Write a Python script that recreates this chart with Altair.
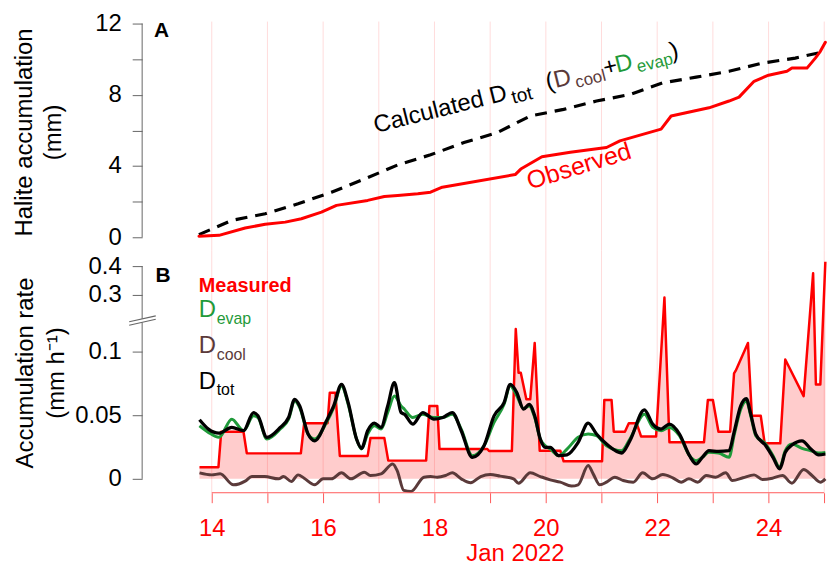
import math
import altair as alt
import pandas as pd

# ---------------- data ----------------
# Panel A: cumulative halite accumulation (mm) vs day of Jan 2022
obs_day = [13.77, 14.13, 14.60, 14.96, 15.32, 15.61, 15.97, 16.24, 16.80, 17.10, 17.34, 17.70, 17.93,
           18.14, 19.45, 19.55, 19.93, 20.44, 21.09, 21.33, 22.07, 22.25, 22.93, 23.29, 23.47, 23.74,
           24.00, 24.33, 24.42, 24.69, 24.84, 24.93, 25.02]
obs_mm = [0.06, 0.11, 0.52, 0.73, 0.85, 1.04, 1.41, 1.79, 2.07, 2.29, 2.34, 2.44, 2.53,
          2.81, 3.52, 3.83, 4.52, 4.77, 5.04, 5.41, 6.07, 6.81, 7.27, 7.65, 7.87, 8.76,
          9.10, 9.32, 9.50, 9.50, 10.06, 10.44, 10.95]
calc_day = [13.77, 14.36, 14.96, 15.55, 16.15, 16.74, 17.34, 17.93, 18.53, 19.13, 19.72, 20.32,
            20.91, 21.51, 22.10, 22.70, 23.29, 23.89, 24.48, 25.02]
calc_mm = [0.15, 0.95, 1.32, 1.88, 2.53, 3.27, 4.06, 4.63, 5.32, 5.88, 6.81, 7.18,
           7.65, 8.02, 8.67, 8.99, 9.32, 9.78, 10.06, 10.44]

# Panel B: accumulation rate (mm/h)
meas_day = [13.78, 14.12, 14.17, 14.57, 14.63, 15.60, 15.66, 16.08, 16.12, 16.22, 16.30, 16.80,
            16.85, 17.10, 17.17, 17.85, 17.91, 18.05, 18.09, 18.95, 18.98, 19.39, 19.46, 19.51,
            19.55, 19.65, 19.72, 19.80, 19.89, 20.26, 20.32, 21.01, 21.05, 21.18, 21.22, 21.42,
            21.49, 21.63, 21.71, 21.98, 22.13, 22.22, 22.84, 22.91, 23.00, 23.10, 23.31, 23.38,
            23.41, 23.63, 23.70, 23.86, 23.93, 24.21, 24.30, 24.63, 24.80, 24.85, 24.93, 25.02]
meas_rate = [0.0091, 0.0091, 0.037, 0.037, 0.020, 0.020, 0.0437, 0.0437, 0.0677, 0.0677, 0.018, 0.018,
             0.032, 0.032, 0.0143, 0.0143, 0.0573, 0.0573, 0.0234, 0.0234, 0.0219, 0.0219, 0.1177, 0.0833,
             0.0833, 0.0625, 0.0625, 0.1068, 0.0221, 0.0221, 0.0138, 0.0138, 0.062, 0.062, 0.037, 0.037,
             0.0437, 0.0437, 0.0333, 0.0333, 0.291, 0.0287, 0.0287, 0.062, 0.062, 0.037, 0.037, 0.0828,
             0.085, 0.1068, 0.0495, 0.0495, 0.0279, 0.0279, 0.0938, 0.065, 0.375, 0.0742, 0.0742, 0.415]

tot_day = [13.78, 13.94, 14.13, 14.36, 14.57, 14.75, 14.83, 14.99, 15.23, 15.38, 15.49, 15.58, 15.73,
           15.85, 16.06, 16.19, 16.33, 16.45, 16.60, 16.69, 16.80, 16.92, 17.04, 17.16, 17.28, 17.40,
           17.46, 17.61, 17.79, 17.99, 18.15, 18.32, 18.48, 18.68, 18.89, 19.07, 19.25, 19.36, 19.48,
           19.60, 19.70, 19.80, 19.90, 19.99, 20.08, 20.23, 20.38, 20.58, 20.76, 20.91, 21.09, 21.36,
           21.51, 21.77, 21.92, 22.07, 22.22, 22.40, 22.58, 22.70, 22.81, 22.93, 23.10, 23.29, 23.38,
           23.50, 23.60, 23.68, 23.77, 23.95, 24.08, 24.20, 24.30, 24.42, 24.60, 24.76, 24.90, 25.02]
tot_rate = [0.0464, 0.0391, 0.0359, 0.0404, 0.0378, 0.0521, 0.0495, 0.0326, 0.0404, 0.0482, 0.0625, 0.0573, 0.0352,
            0.0299, 0.0456, 0.0573, 0.0742, 0.0599, 0.0313, 0.0240, 0.0378, 0.0438, 0.0404, 0.0573, 0.0755, 0.0521,
            0.0508, 0.0430, 0.0521, 0.0469, 0.0482, 0.0521, 0.0378, 0.0169, 0.0260, 0.0495, 0.0599, 0.0742, 0.0677,
            0.0547, 0.0586, 0.0495, 0.0313, 0.0247, 0.0247, 0.0182, 0.0188, 0.0286, 0.0438, 0.0352, 0.0273, 0.0203,
            0.0299, 0.0542, 0.0430, 0.0391, 0.0430, 0.0352, 0.0182, 0.0117, 0.0169, 0.0221, 0.0216, 0.0221, 0.0365,
            0.0573, 0.0630, 0.0508, 0.0352, 0.0260, 0.0169, 0.0078, 0.0208, 0.0266, 0.0299, 0.0234, 0.0188, 0.0195]
evap_rate = [0.0417, 0.0365, 0.0326, 0.0469, 0.0378, 0.0495, 0.0482, 0.0313, 0.0391, 0.0469, 0.0612, 0.0560, 0.0352,
             0.0313, 0.0443, 0.0560, 0.0729, 0.0586, 0.0313, 0.0234, 0.0352, 0.0417, 0.0391, 0.0521, 0.0651, 0.0573,
             0.0547, 0.0482, 0.0508, 0.0482, 0.0482, 0.0508, 0.0391, 0.0182, 0.0260, 0.0443, 0.0586, 0.0729, 0.0651,
             0.0552, 0.0573, 0.0482, 0.0313, 0.0260, 0.0234, 0.0182, 0.0234, 0.0326, 0.0352, 0.0339, 0.0260, 0.0221,
             0.0313, 0.0508, 0.0404, 0.0378, 0.0404, 0.0339, 0.0182, 0.0143, 0.0169, 0.0208, 0.0203, 0.0169, 0.0339,
             0.0547, 0.0612, 0.0495, 0.0339, 0.0273, 0.0182, 0.0091, 0.0221, 0.0273, 0.0240, 0.0221, 0.0203, 0.0208]

cool_day = [13.78, 14.00, 14.15, 14.39, 14.60, 14.72, 14.95, 15.20, 15.29, 15.43, 15.55, 15.66, 15.85, 16.00,
            16.15, 16.33, 16.50, 16.74, 16.85, 17.04, 17.25, 17.33, 17.45, 17.58, 17.81, 17.93, 18.05, 18.20,
            18.32, 18.48, 18.65, 18.83, 19.00, 19.18, 19.42, 19.51, 19.72, 19.90, 20.08, 20.26, 20.46, 20.58,
            20.76, 20.85, 20.97, 21.09, 21.24, 21.39, 21.57, 21.74, 21.92, 22.10, 22.28, 22.43, 22.57, 22.73,
            22.88, 23.05, 23.23, 23.35, 23.54, 23.74, 23.89, 24.07, 24.25, 24.42, 24.63, 24.78, 24.93, 25.02]
cool_rate = [0.0047, 0.0031, 0.0039, -0.0047, -0.0018, 0.0018, 0.0018, 0.0, 0.0018, -0.0021, 0.0031, 0.0005, -0.0047, 0.0,
             0.0, 0.0047, 0.0, 0.0052, 0.0026, 0.0039, 0.0117, 0.0065, -0.0091, -0.0099, 0.0013, 0.0018, 0.0013, 0.0026,
             0.0047, 0.0, -0.0031, 0.0018, 0.0034, 0.0021, 0.0, -0.0034, 0.0047, 0.0018, -0.0008, -0.0026, -0.0057, -0.0047,
             0.0104, 0.0039, -0.0047, -0.0026, 0.0013, -0.0013, -0.0026, 0.0047, 0.0, 0.0034, 0.0008, -0.0026, 0.0, -0.0026,
             0.0026, 0.0013, 0.0047, -0.0013, 0.0008, 0.0031, -0.0005, 0.0005, 0.0026, -0.0034, 0.0073, 0.0026, -0.0026, 0.0]

grid_days = list(range(14, 26))
x_ticks = list(range(14, 26))
a_ticks = [0, 2, 4, 6, 8, 10, 12]
b_ticks = [0, 0.05, 0.1, 0.3, 0.4]

# ---------------- styling / layout ----------------
FONT = "Liberation Sans"
RED = "#ff0000"
GREEN = "#1f9a3a"
BROWN = "#5b3a3a"
BLACK = "#000000"
AXC = "#666666"
XAC = "#ff5a5a"
GRID = "#ffdcdc"
W, HA, HB = 689, 250, 244
XDOM = [12.75, 25.05]
xscale = alt.Scale(domain=XDOM, nice=False, zero=False)

df_grid = pd.DataFrame({"day": grid_days})
df_obs = pd.DataFrame({"day": obs_day, "mm": obs_mm})
df_calc = pd.DataFrame({"day": calc_day, "mm": calc_mm})
df_meas = pd.DataFrame({"day": meas_day, "rate": meas_rate, "zero": [0.0] * len(meas_day)})
df_tot = pd.DataFrame({"day": tot_day, "rate": tot_rate})
df_evap = pd.DataFrame({"day": tot_day, "rate": evap_rate})
df_cool = pd.DataFrame({"day": cool_day, "rate": cool_rate})

# ---------------- panel A ----------------
yA_scale = alt.Scale(domain=[0, 12], range=[237, 22], nice=False, zero=False)
yA_axis = alt.Axis(values=a_ticks, format="d",
                   labelExpr="datum.value % 4 === 0 ? datum.label : ''",
                   domain=False, grid=False, tickSize=10, tickColor=AXC, tickWidth=1,
                   labelFont=FONT, labelFontSize=24, labelColor=BLACK, labelPadding=11,
                   labelOverlap=False, labelFlush=False,
                   title=["Halite accumulation", "(mm)"], titleFont=FONT, titleFontSize=24,
                   titleFontWeight="normal", titleColor=BLACK, titleAngle=270, titleAlign="center",
                   titleBaseline="middle", titleLineHeight=29, titleX=-118, titleY=131)
xA = alt.X("day:Q", scale=xscale, axis=None)

gridA = alt.Chart(df_grid).mark_rule(color=GRID, strokeWidth=1).encode(
    x=xA, y=alt.value(20), y2=alt.value(HA))
calcA = alt.Chart(df_calc).mark_line(color=BLACK, strokeWidth=3.2, strokeDash=[12, 8]).encode(
    x=xA, y=alt.Y("mm:Q", scale=yA_scale, axis=yA_axis))
obsA = alt.Chart(df_obs).mark_line(color=RED, strokeWidth=3, strokeJoin="round", strokeCap="round").encode(
    x=xA, y=alt.Y("mm:Q", scale=yA_scale, axis=yA_axis))
axisA = alt.Chart(pd.DataFrame({"lo": [0], "hi": [12]})).mark_rule(color=AXC, strokeWidth=1).encode(
    x=alt.value(0), y=alt.Y("lo:Q", scale=yA_scale, axis=yA_axis), y2="hi:Q")
anchor = alt.Chart(pd.DataFrame({"k": [0]})).mark_rule(opacity=0, strokeWidth=1).encode(
    x=alt.value(-142.5), x2=alt.value(-142.5), y=alt.value(0.5), y2=alt.value(5))

# rotated label "Calculated D_tot (D_cool + D_evap)"
ang = 14.0
ca, sa = math.cos(math.radians(ang)), math.sin(math.radians(ang))
sx0, sy0 = 378.0, 132.0
calc_txt = ["Calculated D", "tot", "(", "D", "cool", "+", "D", "evap", ")"]
calc_px = [378, 515, 551, 559, 579, 609, 621, 641, 676]
calc_sub = [0, 1, 0, 0, 1, 0, 0, 1, 0]
calc_size = [24, 19, 24, 24, 17, 24, 24, 17, 24]
calc_col = [BLACK, BLACK, BLACK, BROWN, BROWN, BLACK, GREEN, GREEN, BLACK]
rows = []
for t, xp, sb, c, fs in zip(calc_txt, calc_px, calc_sub, calc_col, calc_size):
    s = (xp - sx0) / ca
    px = sx0 + s * ca + sb * 5 * sa - 143
    py = sy0 - s * sa + sb * 5 * ca
    rows.append({"t": t, "px": px, "py": py, "c": c, "s": fs})
df_calc_lbl = pd.DataFrame(rows)

def text_layer(df, angle=0, weight="normal"):
    return alt.Chart(df).mark_text(align="left", baseline="alphabetic", font=FONT,
                                   angle=angle, fontWeight=weight).encode(
        x=alt.X("px:Q", scale=None, axis=None), y=alt.Y("py:Q", scale=None, axis=None),
        text="t:N", color=alt.Color("c:N", scale=None, legend=None),
        size=alt.Size("s:Q", scale=None, legend=None))

lblCalc = text_layer(df_calc_lbl, angle=346)
lblObs = text_layer(pd.DataFrame({"t": ["Observed"], "px": [533 - 143], "py": [189], "c": [RED], "s": [25]}), angle=343)
lblA = text_layer(pd.DataFrame({"t": ["A"], "px": [12], "py": [35.5], "c": [BLACK], "s": [21]}), weight="bold")

panelA = alt.layer(gridA, calcA, obsA, axisA, lblCalc, lblObs, lblA, anchor).properties(width=W, height=HA)

# ---------------- panel B ----------------
yB_scale = alt.Scale(domain=[0, 0.125, 0.214, 0.4], range=[230, 70, 70, 16], nice=False, zero=False)
yB_axis = alt.Axis(values=b_ticks, format="~g", domain=False, grid=False, tickSize=10, tickColor=AXC,
                   tickWidth=1, labelFont=FONT, labelFontSize=24, labelColor=BLACK, labelPadding=11,
                   labelOverlap=False, labelFlush=False,
                   title=["Accumulation rate", "(mm h\u207b\u00b9)"], titleFont=FONT, titleFontSize=24,
                   titleFontWeight="normal", titleColor=BLACK, titleAngle=270, titleAlign="center",
                   titleBaseline="middle", titleLineHeight=31, titleX=-117, titleY=123)
xB_axis = alt.Axis(values=x_ticks, format="d", labelExpr="datum.value % 2 === 0 ? datum.label : ''",
                   domain=False, grid=False, tickSize=10, tickColor=XAC, tickWidth=1,
                   labelFont=FONT, labelFontSize=24, labelColor=RED, labelPadding=14,
                   labelOverlap=False, labelFlush=False,
                   title="Jan 2022", titleFont=FONT, titleFontSize=24, titleFontWeight="normal",
                   titleColor=RED, titleAlign="center", titleBaseline="alphabetic", titleX=375, titleY=68)
xB = alt.X("day:Q", scale=xscale, axis=xB_axis)

def yB(field):
    return alt.Y(field, type="quantitative", scale=yB_scale, axis=yB_axis)

gridB = alt.Chart(df_grid).mark_rule(color=GRID, strokeWidth=1).encode(
    x=xB, y=alt.value(0), y2=alt.value(HB))
areaB = alt.Chart(df_meas).mark_area(color=RED, opacity=0.2).encode(x=xB, y=yB("rate"), y2="zero:Q")
measB = alt.Chart(df_meas).mark_line(color=RED, strokeWidth=2.5, strokeJoin="round").encode(x=xB, y=yB("rate"))
coolB = alt.Chart(df_cool).mark_line(color=BROWN, strokeWidth=3, interpolate="monotone").encode(x=xB, y=yB("rate"))
evapB = alt.Chart(df_evap).mark_line(color=GREEN, strokeWidth=3, interpolate="monotone").encode(x=xB, y=yB("rate"))
totB = alt.Chart(df_tot).mark_line(color=BLACK, strokeWidth=3.3, interpolate="monotone").encode(x=xB, y=yB("rate"))

axisB = alt.Chart(pd.DataFrame({"lo": [0, 0.2174], "hi": [0.1229, 0.4]})).mark_rule(color=AXC, strokeWidth=1).encode(
    x=alt.value(0), y=yB("lo"), y2="hi:Q")
brk = alt.Chart(pd.DataFrame({"x1": [-13, -13], "y1": [75.5, 72], "x2": [13.7, 13.7], "y2": [69.5, 66]})).mark_rule(
    color=AXC, strokeWidth=1.2).encode(
    x=alt.X("x1:Q", scale=None, axis=None), y=alt.Y("y1:Q", scale=None, axis=None), x2="x2:Q", y2="y2:Q")
xline = alt.Chart(pd.DataFrame({"a": [14], "b": [25]})).mark_rule(color=XAC, strokeWidth=1).encode(
    x=alt.X("a:Q", scale=xscale, axis=xB_axis), x2="b:Q", y=alt.value(HB))

legB = text_layer(pd.DataFrame({
    "t": ["D", "evap", "D", "cool", "D", "tot"],
    "px": [57, 75, 57, 75, 57, 75],
    "py": [66.7, 74, 103.3, 110, 140, 146],
    "c": [GREEN, GREEN, BROWN, BROWN, BLACK, BLACK],
    "s": [24, 16, 24, 16, 24, 16]}))
legMeas = text_layer(pd.DataFrame({"t": ["Measured"], "px": [57], "py": [41.7], "c": [RED], "s": [20]}), weight="bold")
lblB = text_layer(pd.DataFrame({"t": ["B"], "px": [13.5], "py": [32], "c": [BLACK], "s": [21]}), weight="bold")

panelB = alt.layer(gridB, areaB, measB, coolB, evapB, totB, axisB, brk, xline, legB, legMeas, lblB).properties(
    width=W, height=HB)

chart = alt.vconcat(panelA, panelB, spacing=0, bounds="flush", padding=0).configure_view(stroke=None)
chart.save("out.html", embed_options={"renderer": "svg", "actions": False})
